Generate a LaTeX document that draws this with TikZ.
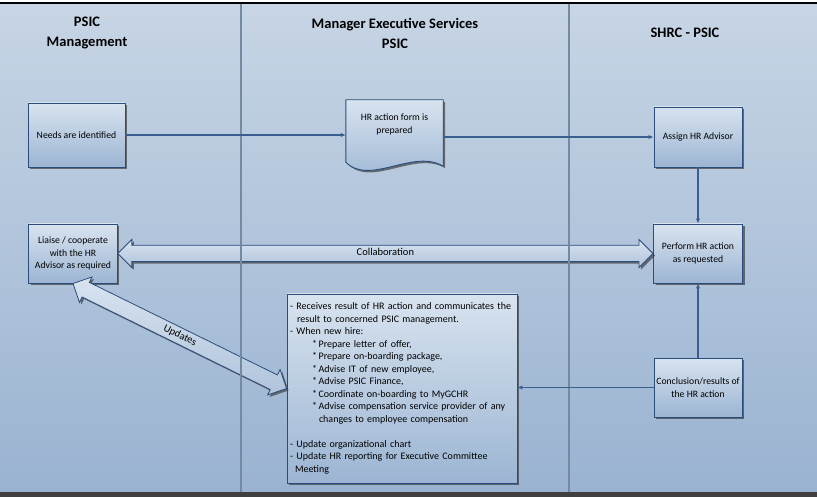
\documentclass[tikz,border=0pt]{standalone}
\usepackage{fontspec}
\setmainfont{Carlito}
\usepackage{xcolor}
\usetikzlibrary{shapes.arrows,shadows,calc,arrows.meta,backgrounds}

\definecolor{lanetop}{HTML}{C7D5E5}
\definecolor{lanebot}{HTML}{9AB3D1}
\definecolor{laneline}{HTML}{7489A2}
\definecolor{boxtop}{HTML}{D8E3EF}
\definecolor{boxbot}{HTML}{9CB5D3}
\definecolor{boxline}{HTML}{2C4D7C}
\definecolor{flowline}{HTML}{3A5E8E}

\begin{document}
\begin{tikzpicture}[x=1pt,y=-1pt,
  boxshadow/.style={drop shadow={shadow xshift=2pt,shadow yshift=-2pt,fill=black!75,opacity=0.7}},
  box/.style={draw=boxline,line width=0.9pt,top color=boxtop,bottom color=boxbot,boxshadow,
    font=\fontsize{9.7}{12.5}\selectfont,align=center,inner sep=0pt},
  lanetitle/.style={font=\fontsize{14.5}{20}\selectfont\bfseries,align=center},
  fatarrow/.style={double arrow,draw=boxline,line width=0.8pt,top color=boxtop,bottom color=boxbot!80!white,
    boxshadow,double arrow head extend=6pt,double arrow tip angle=90,inner xsep=0pt,inner ysep=3.5pt,
    text height=6.5pt,text depth=2pt,font=\fontsize{10.5}{12}\selectfont},
  flow/.style={draw=flowline,line width=1.1pt,-{Latex[length=5pt,width=4.5pt]}}]
\useasboundingbox (0,0) rectangle (817,497);
\begin{pgfonlayer}{background}
\fill[white] (0,0) rectangle (817,497);
\shade[top color=lanetop,bottom color=lanebot] (0,3) rectangle (817,492);
\end{pgfonlayer}
\draw[black,line width=1.5pt] (0,3) -- (817,3);
\fill[black!75] (0,492) rectangle (817,497);

\node[lanetitle] (mgmt) at (87,33) {PSIC\\Management};
\node[lanetitle] (mes) at (395,33) {Manager Executive Services\\PSIC};
\node[lanetitle] (shrc) at (685,33) {SHRC - PSIC};

\node[box,minimum width=97pt,minimum height=64pt] (needs) at (76.5,135) {Needs are identified};
\node[align=center,font=\fontsize{9.7}{12.5}\selectfont,minimum width=97pt,minimum height=66pt,inner sep=0pt] (form) at (394.5,133) {HR action form is\\prepared\\[6pt]};
\begin{pgfonlayer}{background}
\path[draw=boxline,line width=0.9pt,top color=boxtop,bottom color=boxbot,boxshadow]
  (form.north west) -- (form.north east) -- (form.south east)
  .. controls ($(form.south east)+(-30,-18)$) and ($(form.south west)+(24,20)$) .. ($(form.south west)+(0,-4)$)
  -- cycle;
\end{pgfonlayer}
\node[box,minimum width=88pt,minimum height=60pt] (assign) at (698,137) {Assign HR Advisor};
\node[box,minimum width=88.5pt,minimum height=59pt] (liaise) at (73,253.5) {Liaise / cooperate\\with the HR\\Advisor as required};
\node[box,minimum width=89pt,minimum height=59pt] (perform) at (698,253.5) {Perform HR action\\as requested};
\node[box,minimum width=88pt,minimum height=59pt] (concl) at (698,387.5) {Conclusion/results of\\the HR action};
\node[box,minimum width=230pt,minimum height=189pt,text width=224pt,inner xsep=3pt,align=left,
  font=\fontsize{10}{12.5}\selectfont] (info) at (402,388.5) {%
- Receives result of HR action and communicates the\\
\hspace*{7pt}result to concerned PSIC management.\\
- When new hire:\\
\hspace*{22pt}*\,Prepare letter of offer,\\
\hspace*{22pt}*\,Prepare on-boarding package,\\
\hspace*{22pt}*\,Advise IT of new employee,\\
\hspace*{22pt}*\,Advise PSIC Finance,\\
\hspace*{22pt}*\,Coordinate on-boarding to MyGCHR\\
\hspace*{22pt}*\,Advise compensation service provider of any\\
\hspace*{29pt}changes to employee compensation\\[12.5pt]
- Update organizational chart\\
- Update HR reporting for Executive Committee\\
\hspace*{5pt}Meeting};

\path let \p1=($(perform.west)-(liaise.east)$), \n1={veclen(\x1,\y1)} in
  node[fatarrow,minimum height=\n1] (collab) at ($(liaise.east)!0.5!(perform.west)$) {Collaboration};
\path let \p1=($(info.west)-(liaise.south)$), \n1={veclen(\x1,\y1)}, \n2={atan2(\y1,\x1)} in
  node[fatarrow,minimum height=\n1,rotate=\n2] (updates) at ($(liaise.south)!0.5!(info.west)$) {Updates};

\foreach \lx in {241,569}
  \draw[laneline,line width=1.2pt] (\lx,4) -- (\lx,492);

\draw[flow] (needs.east) -- (needs.east -| form.west);
\draw[flow] (form.east |- assign.west) -- (assign.west);
\draw[flow] (assign.south) -- (perform.north);
\draw[flow] (concl.north) -- (perform.south);
\draw[flow] (concl.west) -- (concl.west -| info.east);
\end{tikzpicture}
\end{document}
